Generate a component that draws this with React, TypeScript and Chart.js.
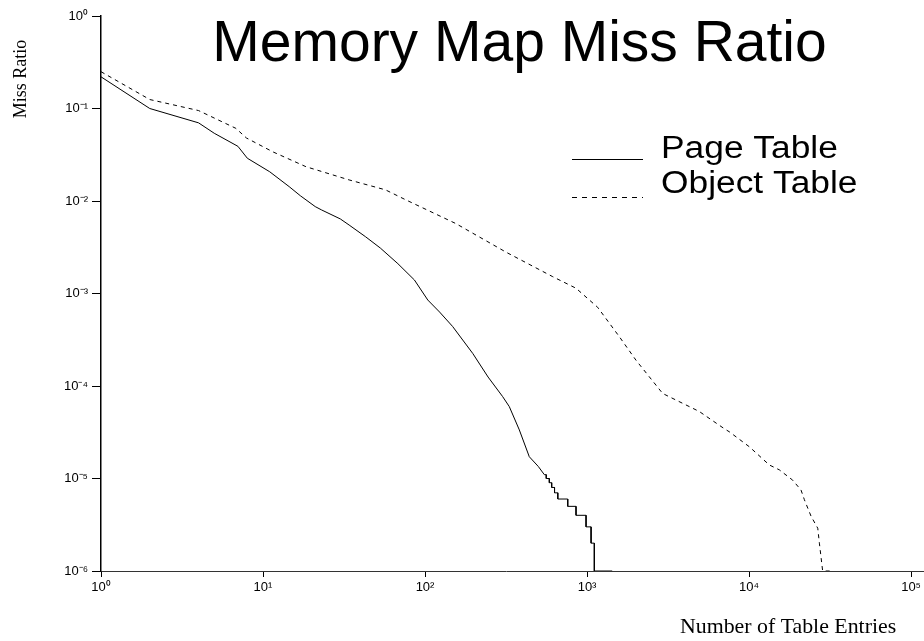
import React, { useEffect, useRef } from 'react';
import { Chart, registerables } from 'chart.js';

Chart.register(...registerables);

const TITLE = 'Memory Map Miss Ratio';
const X_TITLE = 'Number of Table Entries';
const Y_TITLE = 'Miss Ratio';
const SERIES_NAMES = ['Page Table', 'Object Table'];

const X_TICKS = [1, 10, 100, 1000, 10000, 100000];
const X_TICK_LABELS = ['10⁰', '10¹', '10²', '10³', '10⁴', '10⁵'];
const Y_TICKS = [1, 0.1, 0.01, 0.001, 1e-4, 1e-5, 1e-6];
const Y_TICK_LABELS = ['10⁰', '10⁻¹', '10⁻²', '10⁻³', '10⁻⁴', '10⁻⁵', '10⁻⁶'];

const pageEntries = [
  1, 2, 4, 5, 7, 8, 11, 14.5, 17, 21, 23, 30, 34, 43, 53, 68, 86, 104, 123, 148,
  197, 245, 301, 331, 382, 440, 500, 545, 560, 560, 585, 585, 605, 605, 630, 630,
  660, 660, 760, 760, 855, 855, 986, 986, 1059, 1059, 1109, 1109, 1430,
];
const pageMiss = [
  0.22, 0.1, 0.07, 0.054, 0.039, 0.029, 0.0207, 0.0143, 0.0114, 0.0087, 0.008,
  0.0064, 0.0055, 0.0041, 0.0031, 0.0021, 0.0014, 0.00085, 0.00063, 0.00044,
  0.000225, 0.000125, 7.7e-5, 6.0e-5, 3.35e-5, 1.72e-5, 1.35e-5, 1.1e-5, 1.1e-5,
  1.0e-5, 1.0e-5, 9e-6, 9e-6, 8e-6, 8e-6, 7e-6, 7e-6, 6e-6, 6e-6, 5e-6, 5e-6,
  4e-6, 4e-6, 3e-6, 3e-6, 2e-6, 2e-6, 1e-6, 1e-6,
];

const objectEntries = [
  1, 2, 4, 6.8, 7.9, 11.5, 18.4, 34, 57, 76, 155, 316, 614, 855, 1162, 1585, 2005,
  2420, 2930, 3890, 4930, 7040, 7550, 10050, 13340, 15380, 18580, 20930, 21950,
  24150, 26550, 27170, 28460, 32060,
];
const objectMiss = [
  0.25, 0.125, 0.095, 0.061, 0.048, 0.034, 0.0235, 0.0169, 0.0132, 0.0103, 0.0057,
  0.0028, 0.00152, 0.00114, 0.00071, 0.00034, 0.00019, 0.000126, 8.3e-5, 6.5e-5,
  5.3e-5, 3.45e-5, 3.2e-5, 2.2e-5, 1.4e-5, 1.24e-5, 9.6e-6, 7.5e-6, 5.9e-6,
  3.9e-6, 2.9e-6, 2.0e-6, 1.0e-6, 1.0e-6,
];

const toPoints = (xs: number[], ys: number[]) => xs.map((x, i) => ({ x, y: ys[i] }));

const labelFor = (ticks: number[], labels: string[], v: number) => {
  const i = ticks.findIndex((t) => Math.abs(Math.log10(t) - Math.log10(v)) < 1e-6);
  return i >= 0 ? labels[i] : '';
};

const decorPlugin = {
  id: 'decor',
  afterDraw(chart: any) {
    const ctx = chart.ctx as CanvasRenderingContext2D;
    const area = chart.chartArea;
    ctx.save();
    // x-axis line extension to the right edge
    ctx.strokeStyle = '#333';
    ctx.lineWidth = 1;
    ctx.beginPath();
    ctx.moveTo(area.right, area.bottom + 0.5);
    ctx.lineTo(chart.width, area.bottom + 0.5);
    ctx.stroke();

    // title
    ctx.fillStyle = '#000';
    ctx.font = '57px "Liberation Sans", Arial, sans-serif';
    ctx.textAlign = 'center';
    ctx.textBaseline = 'alphabetic';
    ctx.fillText(TITLE, 519.5, 61);

    // legend
    const legendY = [159, 197];
    const textY = [157.5, 193];
    SERIES_NAMES.forEach((name, i) => {
      ctx.strokeStyle = '#000';
      ctx.lineWidth = 1;
      ctx.setLineDash(i === 1 ? [5, 5] : []);
      ctx.beginPath();
      ctx.moveTo(572, legendY[i] + 0.5);
      ctx.lineTo(643, legendY[i] + 0.5);
      ctx.stroke();
      ctx.setLineDash([]);
      ctx.save();
      ctx.translate(661, textY[i]);
      ctx.scale(1.14, 1);
      ctx.font = '31px "Liberation Sans", Arial, sans-serif';
      ctx.textAlign = 'left';
      ctx.fillText(name, 0, 0);
      ctx.restore();
    });

    // axis titles
    ctx.save();
    ctx.translate(680, 633);
    ctx.scale(1.04, 1);
    ctx.font = '21px "Liberation Serif", "Times New Roman", serif';
    ctx.textAlign = 'left';
    ctx.fillText(X_TITLE, 0, 0);
    ctx.restore();

    ctx.save();
    ctx.translate(26, 79);
    ctx.rotate(-Math.PI / 2);
    ctx.font = '18px "Liberation Serif", "Times New Roman", serif';
    ctx.textAlign = 'center';
    ctx.fillText(Y_TITLE, 0, 0);
    ctx.restore();

    ctx.restore();
  },
};

export default function App() {
  const canvasRef = useRef<HTMLCanvasElement | null>(null);

  useEffect(() => {
    const canvas = canvasRef.current;
    if (!canvas) return;
    const tickFont = { family: '"Liberation Sans", Arial, sans-serif', size: 13 };
    const chart = new Chart(canvas, {
      type: 'line',
      data: {
        datasets: [
          {
            label: SERIES_NAMES[0],
            data: toPoints(pageEntries, pageMiss),
            borderColor: '#000',
            borderWidth: 1,
            pointRadius: 0,
            tension: 0,
            fill: false,
          },
          {
            label: SERIES_NAMES[1],
            data: toPoints(objectEntries, objectMiss),
            borderColor: '#000',
            borderWidth: 1,
            borderDash: [4, 4],
            pointRadius: 0,
            tension: 0,
            fill: false,
          },
        ],
      },
      options: {
        animation: false,
        responsive: false,
        maintainAspectRatio: false,
        layout: { padding: { top: 16, right: 12, left: 0, bottom: 0 } },
        plugins: {
          legend: { display: false },
          tooltip: { enabled: false },
          title: { display: false },
        },
        scales: {
          x: {
            type: 'logarithmic',
            min: 1,
            max: 100000,
            afterBuildTicks: (scale: any) => {
              scale.ticks = X_TICKS.map((v) => ({ value: v }));
            },
            afterFit: (scale: any) => {
              scale.height = 70;
            },
            grid: {
              display: true,
              drawOnChartArea: false,
              drawTicks: true,
              tickLength: 6,
              color: '#000',
              lineWidth: 1,
            },
            border: { display: true, color: '#333', width: 1 },
            ticks: {
              autoSkip: false,
              maxRotation: 0,
              minRotation: 0,
              padding: 3,
              color: '#000',
              font: tickFont,
              callback: (v: any) => labelFor(X_TICKS, X_TICK_LABELS, Number(v)),
            },
          },
          y: {
            type: 'logarithmic',
            min: 1e-6,
            max: 1,
            afterBuildTicks: (scale: any) => {
              scale.ticks = Y_TICKS.map((v) => ({ value: v }));
            },
            afterFit: (scale: any) => {
              scale.width = 101;
            },
            grid: {
              display: true,
              drawOnChartArea: false,
              drawTicks: true,
              tickLength: 9,
              color: '#000',
              lineWidth: 1,
            },
            border: { display: true, color: '#000', width: 1.5 },
            ticks: {
              autoSkip: false,
              padding: 4,
              color: '#000',
              font: tickFont,
              callback: (v: any) => labelFor(Y_TICKS, Y_TICK_LABELS, Number(v)),
            },
          },
        },
      },
      plugins: [decorPlugin],
    });
    return () => chart.destroy();
  }, []);

  return (
    <div style={{ position: 'absolute', left: 0, top: 0, width: 924, height: 641, background: '#fff' }}>
      <canvas ref={canvasRef} width={924} height={641} style={{ display: 'block' }} />
    </div>
  );
}
